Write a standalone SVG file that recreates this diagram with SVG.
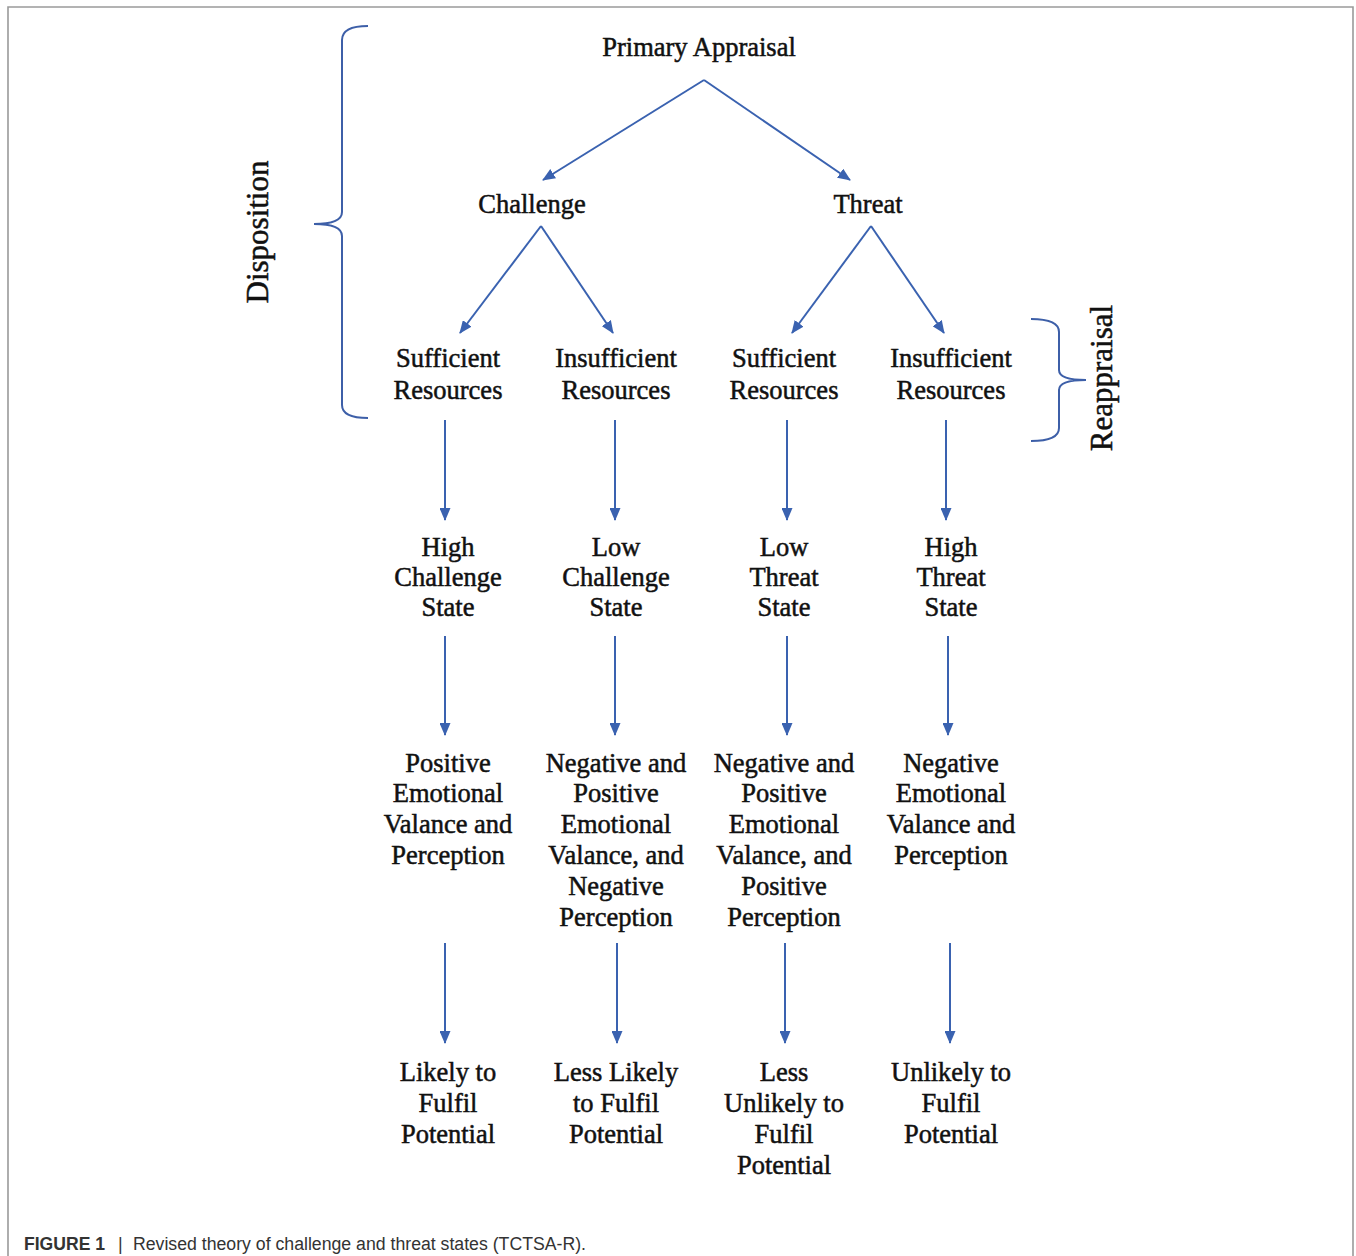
<svg xmlns="http://www.w3.org/2000/svg" width="1356" height="1256" viewBox="0 0 1356 1256">
<style>
.t{font-family:"Liberation Serif","Times New Roman",serif;font-size:26.5px;fill:#111;stroke:#111;stroke-width:0.5;text-anchor:middle}
.side{font-family:"Liberation Serif","Times New Roman",serif;font-size:31px;fill:#111;stroke:#111;stroke-width:0.5;text-anchor:middle}
.c{stroke:#3a62b0;stroke-width:2;fill:none}
.br{stroke:#3d5fa8;stroke-width:2;fill:none}
.cap{font-family:"Liberation Sans",Arial,sans-serif;font-size:18px;fill:#333}
</style>
<defs>
<marker id="ah" viewBox="0 0 13 11" refX="12" refY="5.5" markerWidth="13" markerHeight="11" markerUnits="userSpaceOnUse" orient="auto">
<path d="M0,0 L13,5.5 L0,11 z" fill="#3a62b0"/>
</marker>
</defs>
<rect width="1356" height="1256" fill="#fff"/>
<path d="M8,1256 L8,7 L1353,7 L1353,1256" fill="none" stroke="#9a9a9a" stroke-width="1.6"/>

<g id="connectors">
<line class="c" x1="704" y1="80" x2="543" y2="180" marker-end="url(#ah)"/>
<line class="c" x1="704" y1="80" x2="850" y2="180" marker-end="url(#ah)"/>
<line class="c" x1="541" y1="226" x2="460" y2="333" marker-end="url(#ah)"/>
<line class="c" x1="541" y1="226" x2="613" y2="333" marker-end="url(#ah)"/>
<line class="c" x1="871" y1="226" x2="792" y2="333" marker-end="url(#ah)"/>
<line class="c" x1="871" y1="226" x2="944" y2="333" marker-end="url(#ah)"/>
<line class="c" x1="445" y1="420" x2="445" y2="520" marker-end="url(#ah)"/>
<line class="c" x1="615" y1="420" x2="615" y2="520" marker-end="url(#ah)"/>
<line class="c" x1="787" y1="420" x2="787" y2="520" marker-end="url(#ah)"/>
<line class="c" x1="946" y1="420" x2="946" y2="520" marker-end="url(#ah)"/>
<line class="c" x1="445" y1="636" x2="445" y2="735" marker-end="url(#ah)"/>
<line class="c" x1="615" y1="636" x2="615" y2="735" marker-end="url(#ah)"/>
<line class="c" x1="787" y1="636" x2="787" y2="735" marker-end="url(#ah)"/>
<line class="c" x1="948" y1="636" x2="948" y2="735" marker-end="url(#ah)"/>
<line class="c" x1="445" y1="943" x2="445" y2="1043" marker-end="url(#ah)"/>
<line class="c" x1="617" y1="943" x2="617" y2="1043" marker-end="url(#ah)"/>
<line class="c" x1="785" y1="943" x2="785" y2="1043" marker-end="url(#ah)"/>
<line class="c" x1="950" y1="943" x2="950" y2="1043" marker-end="url(#ah)"/>
</g>

<g id="disposition">
<path class="br" d="M368,26 Q342,26 342,40 L342,212 Q342,224 314,224 Q342,224 342,236 L342,405 Q342,418 368,418"/>
<text class="side" transform="translate(268,232) rotate(-90)">Disposition</text>
</g>
<g id="reappraisal">
<path class="br" d="M1031,319 Q1059,319 1059,332 L1059,370 Q1059,380 1086,380 Q1059,380 1059,390 L1059,428 Q1059,441 1031,441"/>
<text class="side" transform="translate(1112,378) rotate(-90)">Reappraisal</text>
</g>

<g id="primary"><text class="t" x="699" y="56">Primary Appraisal</text></g>
<g id="challenge"><text class="t" x="532" y="213">Challenge</text></g>
<g id="threat"><text class="t" x="868" y="213">Threat</text></g>

<g id="res1"><text class="t" x="448" y="367">Sufficient</text><text class="t" x="448" y="399">Resources</text></g>
<g id="res2"><text class="t" x="616" y="367">Insufficient</text><text class="t" x="616" y="399">Resources</text></g>
<g id="res3"><text class="t" x="784" y="367">Sufficient</text><text class="t" x="784" y="399">Resources</text></g>
<g id="res4"><text class="t" x="951" y="367">Insufficient</text><text class="t" x="951" y="399">Resources</text></g>

<g id="state1"><text class="t" x="448" y="556">High</text><text class="t" x="448" y="586">Challenge</text><text class="t" x="448" y="616">State</text></g>
<g id="state2"><text class="t" x="616" y="556">Low</text><text class="t" x="616" y="586">Challenge</text><text class="t" x="616" y="616">State</text></g>
<g id="state3"><text class="t" x="784" y="556">Low</text><text class="t" x="784" y="586">Threat</text><text class="t" x="784" y="616">State</text></g>
<g id="state4"><text class="t" x="951" y="556">High</text><text class="t" x="951" y="586">Threat</text><text class="t" x="951" y="616">State</text></g>

<g id="emo1"><text class="t" x="448" y="772">Positive</text><text class="t" x="448" y="802">Emotional</text><text class="t" x="448" y="833">Valance and</text><text class="t" x="448" y="864">Perception</text></g>
<g id="emo2"><text class="t" x="616" y="772">Negative and</text><text class="t" x="616" y="802">Positive</text><text class="t" x="616" y="833">Emotional</text><text class="t" x="616" y="864">Valance, and</text><text class="t" x="616" y="895">Negative</text><text class="t" x="616" y="926">Perception</text></g>
<g id="emo3"><text class="t" x="784" y="772">Negative and</text><text class="t" x="784" y="802">Positive</text><text class="t" x="784" y="833">Emotional</text><text class="t" x="784" y="864">Valance, and</text><text class="t" x="784" y="895">Positive</text><text class="t" x="784" y="926">Perception</text></g>
<g id="emo4"><text class="t" x="951" y="772">Negative</text><text class="t" x="951" y="802">Emotional</text><text class="t" x="951" y="833">Valance and</text><text class="t" x="951" y="864">Perception</text></g>

<g id="out1"><text class="t" x="448" y="1081">Likely to</text><text class="t" x="448" y="1112">Fulfil</text><text class="t" x="448" y="1143">Potential</text></g>
<g id="out2"><text class="t" x="616" y="1081">Less Likely</text><text class="t" x="616" y="1112">to Fulfil</text><text class="t" x="616" y="1143">Potential</text></g>
<g id="out3"><text class="t" x="784" y="1081">Less</text><text class="t" x="784" y="1112">Unlikely to</text><text class="t" x="784" y="1143">Fulfil</text><text class="t" x="784" y="1174">Potential</text></g>
<g id="out4"><text class="t" x="951" y="1081">Unlikely to</text><text class="t" x="951" y="1112">Fulfil</text><text class="t" x="951" y="1143">Potential</text></g>

<g id="caption">
<text class="cap" x="24" y="1250" font-weight="bold" fill="#222" textLength="81" lengthAdjust="spacingAndGlyphs">FIGURE 1</text>
<text class="cap" x="118" y="1250">|</text>
<text class="cap" x="133" y="1250" textLength="453" lengthAdjust="spacingAndGlyphs">Revised theory of challenge and threat states (TCTSA-R).</text>
</g>
</svg>
